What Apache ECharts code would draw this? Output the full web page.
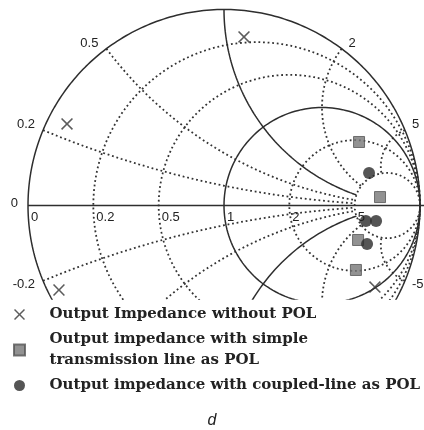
<!DOCTYPE html>
<html>
<head>
<meta charset="utf-8">
<script src="https://cdn.jsdelivr.net/npm/echarts@6/dist/echarts.min.js"></script>
<style>
  html, body { margin: 0; padding: 0; background: #fff; }
  #chart { width: 424px; height: 430px; }
</style>
</head>
<body>
<div id="chart"></div>
<script>
// Smith chart grid: normalised resistance circles and reactance arcs
const dottedResistance = [0.2, 0.5, 2, 5];
const solidResistance = [1];
const dottedReactance = [0.2, 0.5, 2, 5, -0.2, -0.5, -2, -5];
const solidReactance = [1, -1];
const arcEndResistance = 5;              // reactance arcs stop at this circle
const axisTickLabels = [0, 0.2, 0.5, 1, 2, 5];
const rimTickLabels = [0.2, 0.5, 2, 5, -0.2, -5];

// Output impedance as reflection coefficient (real part, imaginary part)
const noPolRe = [0.102, -0.801, -0.842, 0.770];
const noPolIm = [0.860, 0.416, -0.431, -0.416];
const simpleRe = [0.689, 0.796, 0.684, 0.673];
const simpleIm = [0.324, 0.043, -0.176, -0.329];
const coupledRe = [0.740, 0.724, 0.776, 0.730];
const coupledIm = [0.166, -0.079, -0.079, -0.196];

const seriesNames = [
  'Output Impedance without POL',
  'Output impedance with simple\ntransmission line as POL',
  'Output impedance with coupled-line as POL'
];
const captionText = 'd';

// z = r + jx  ->  reflection coefficient
function gamma(r, x) {
  const d = (r + 1) * (r + 1) + x * x;
  return [(r * r + x * x - 1) / d, (2 * x) / d];
}
function resistanceCircle(r) {
  const c = r / (1 + r), rho = 1 / (1 + r), pts = [];
  for (let a = 0; a <= 360; a += 1) {
    const t = a * Math.PI / 180;
    pts.push([c + rho * Math.cos(t), rho * Math.sin(t)]);
  }
  return pts;
}
function reactanceArc(x) {
  const pts = [], n = 300;
  for (let i = 0; i <= n; i++) {
    const r = arcEndResistance * Math.pow(i / n, 2);
    pts.push(gamma(r, x));
  }
  return pts;
}
const zip = (a, b) => a.map((v, i) => [v, b[i]]);

const dotted = { color: '#333', width: 1.8, type: [1.8, 2.8], cap: 'butt' };
const solid = { color: '#2e2e2e', width: 1.5 };

function gridLine(data, style) {
  return {
    type: 'line', data, showSymbol: false, silent: true, clip: true,
    lineStyle: style, z: 1, animation: false
  };
}

const series = [];
dottedResistance.forEach(r => series.push(gridLine(resistanceCircle(r), dotted)));
dottedReactance.forEach(x => series.push(gridLine(reactanceArc(x), dotted)));
solidResistance.forEach(r => series.push(gridLine(resistanceCircle(r), solid)));
solidReactance.forEach(x => series.push(gridLine(reactanceArc(x), solid)));
series.push(gridLine(resistanceCircle(0), solid));           // rim
series.push(gridLine([[-1, 0], [1.03, 0]], solid));           // real axis

const crossPath = 'path://M0,1.1L1.1,0L6,4.9L10.9,0L12,1.1L7.1,6L12,10.9L10.9,12L6,7.1L1.1,12L0,10.9L4.9,6Z';
const squarePath = 'path://M0,0H10V10H0Z';

series.push({
  name: seriesNames[0], type: 'scatter', data: zip(noPolRe, noPolIm),
  symbol: crossPath, symbolSize: 12, z: 5, animation: false,
  itemStyle: { color: '#333' }
});
series.push({
  name: seriesNames[1], type: 'scatter', data: zip(simpleRe, simpleIm),
  symbol: squarePath, symbolSize: 11, z: 5, animation: false,
  itemStyle: { color: '#777', borderColor: '#555', borderWidth: 1 }
});
series.push({
  name: seriesNames[2], type: 'scatter', data: zip(coupledRe, coupledIm),
  symbol: 'circle', symbolSize: 12, z: 6, animation: false,
  itemStyle: { color: '#2a2a2a' }
});

const chart = echarts.init(document.getElementById('chart'), null, { renderer: 'canvas' });
const PX = 196, CX = 224, CY = 205.5, W = 424, H = 299;
chart.setOption({
  animation: false,
  grid: { left: 0, top: 0, width: W, height: H },
  xAxis: { type: 'value', min: -CX / PX, max: (W - CX) / PX, show: false },
  yAxis: { type: 'value', min: (CY - H) / PX, max: CY / PX, show: false },
  legend: {
    data: seriesNames, orient: 'vertical', left: 13, top: 304, padding: 0,
    itemWidth: 40, itemHeight: 11, itemGap: 4, selectedMode: false,
    textStyle: {
      fontFamily: 'DejaVu Serif', fontSize: 15, fontWeight: 'bold',
      color: '#222', lineHeight: 21, padding: [0, 0, 0, 5]
    }
  },
  series
});

// Tick labels along the real axis and round the rim
const numFont = '13px "Liberation Sans"';
const graphic = [];
axisTickLabels.forEach(r => {
  const p = chart.convertToPixel({ gridIndex: 0 }, gamma(r, 0));
  graphic.push({ type: 'text', silent: true, z: 10, style: {
    text: String(r), x: p[0] + 3, y: p[1] + 5, font: numFont, fill: '#222',
    align: 'left', verticalAlign: 'top' } });
});
rimTickLabels.forEach(x => {
  const p = chart.convertToPixel({ gridIndex: 0 }, gamma(0, x));
  const right = p[0] > CX;
  const upper = x > 0;
  graphic.push({ type: 'text', silent: true, z: 10, style: {
    text: String(x), x: p[0] + (right ? 7 : -8), y: p[1] + (upper ? 1 : -3),
    font: numFont, fill: '#222', align: right ? 'left' : 'right',
    verticalAlign: upper ? 'bottom' : 'top' } });
});
// real-axis origin label on the left of the rim
{
  const p = chart.convertToPixel({ gridIndex: 0 }, gamma(0, 0));
  graphic.push({ type: 'text', silent: true, z: 10, style: {
    text: '0', x: p[0] - 10, y: p[1] - 2, font: numFont, fill: '#222',
    align: 'right', verticalAlign: 'middle' } });
}
graphic.push({ type: 'text', silent: true, left: 'center', top: 413, style: {
  text: captionText, font: 'italic 16px "Liberation Sans"', fill: '#222' } });
chart.setOption({ graphic });
</script>
</body>
</html>
